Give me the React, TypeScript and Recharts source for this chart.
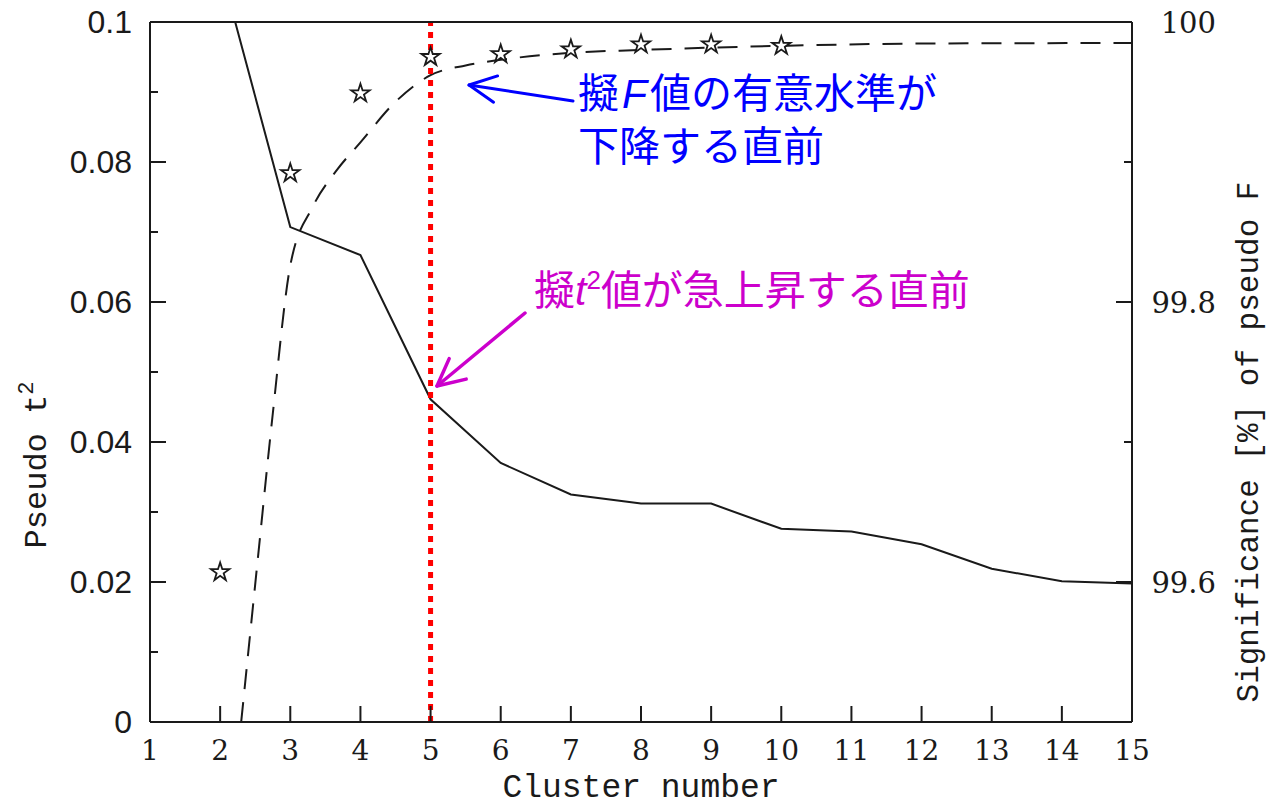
import React from 'react';
import { ComposedChart, Line, Scatter, XAxis, YAxis, ZAxis, ReferenceLine } from 'recharts';

// pseudo t^2 per cluster number (left axis); value at 2 runs off the top
const CLUSTERS = [2, 3, 4, 5, 6, 7, 8, 9, 10, 11, 12, 13, 14, 15];
const PSEUDO_T2 = [0.108, 0.0707, 0.0667, 0.0461, 0.037, 0.0325, 0.0312, 0.0312, 0.0276, 0.0272, 0.0254, 0.0219, 0.0201, 0.0198];

// significance of pseudo F (right axis), star markers
const STAR_CLUSTERS = [2, 3, 4, 5, 6, 7, 8, 9, 10];
const SIG_STARS = [99.607, 99.892, 99.949, 99.975, 99.977, 99.9805, 99.984, 99.984, 99.983];

// dashed curve
const FIT_X = [2.3, 2.54, 2.75, 3.0, 3.32, 3.66, 4.0, 4.5, 5.0, 5.5, 6, 7, 8, 10, 12, 15];
const FIT_SIG = [99.5, 99.618, 99.72, 99.826, 99.868, 99.894, 99.914, 99.943, 99.962, 99.969, 99.973, 99.978, 99.98, 99.983, 99.9846, 99.985];

const X_TICKS = [1, 2, 3, 4, 5, 6, 7, 8, 9, 10, 11, 12, 13, 14, 15];
const LEFT_TICKS = [0, 0.01, 0.02, 0.03, 0.04, 0.05, 0.06, 0.07, 0.08, 0.09, 0.1];
const RIGHT_TICKS = [99.6, 99.7, 99.8, 99.9, 100];

const t2Data = CLUSTERS.map((x, i) => ({ x, y: PSEUDO_T2[i] }));
const starData = STAR_CLUSTERS.map((x, i) => ({ x, y: SIG_STARS[i] }));
const fitData = FIT_X.map((x, i) => ({ x, y: FIT_SIG[i] }));

const INK = '#1a1a1a';
const SANS = "'Liberation Sans', Arial, sans-serif";
const SERIF = "'DejaVu Serif', serif";
const MONO = "'Liberation Mono', monospace";
const CJK = "'Noto Sans CJK JP', sans-serif";

const LeftTick = ({ x, y, payload }: any) => {
  const v = payload.value;
  const major = Math.round(v * 100) % 2 === 0;
  return (
    <g>
      <line x1={x} x2={x + (major ? 16 : 8)} y1={y} y2={y} stroke={INK} strokeWidth={2} />
      {major && (
        <text x={x - 18} y={y + 11} textAnchor="end" fontSize={32} fontFamily={SANS} fill={INK}>
          {String(v)}
        </text>
      )}
    </g>
  );
};

const RightTick = ({ x, y, payload }: any) => {
  const v = payload.value;
  const major = Math.round(v * 10) % 2 === 0;
  return (
    <g>
      <line x1={x} x2={x - (major ? 16 : 8)} y1={y} y2={y} stroke={INK} strokeWidth={2} />
      {major && (
        <text x={x + 84} y={y + 11} textAnchor="end" fontSize={29} fontFamily={SERIF} fill={INK}>
          {String(v)}
        </text>
      )}
    </g>
  );
};

const BottomTick = ({ x, y, payload }: any) => (
  <g>
    <line x1={x} x2={x} y1={y} y2={y - 16} stroke={INK} strokeWidth={2} />
    <text x={x} y={y + 38} textAnchor="middle" fontSize={28} fontFamily={SERIF} fill={INK}>
      {payload.value}
    </text>
  </g>
);

const TopTick = ({ x, y }: any) => (
  <line x1={x} x2={x} y1={y} y2={y + 16} stroke={INK} strokeWidth={2} />
);

const Arrow = ({ x1, y1, x2, y2, color, w }: any) => {
  const a = Math.atan2(y1 - y2, x1 - x2);
  const L = 30, s = 0.46;
  const p1 = `${x2 + L * Math.cos(a + s)},${y2 + L * Math.sin(a + s)}`;
  const p2 = `${x2 + L * Math.cos(a - s)},${y2 + L * Math.sin(a - s)}`;
  return (
    <g stroke={color} strokeWidth={w} fill="none" strokeLinecap="round" strokeLinejoin="round">
      <line x1={x1} y1={y1} x2={x2} y2={y2} />
      <polyline points={`${p1} ${x2},${y2} ${p2}`} />
    </g>
  );
};

export default function App() {
  return (
    <div style={{ position: 'absolute', left: 0, top: 0, width: 1267, height: 808, background: '#fff' }}>
      <ComposedChart width={1267} height={808} margin={{ top: 21, right: 0, bottom: 0, left: 0 }}>
        <XAxis
          dataKey="x"
          type="number"
          domain={[1, 15]}
          ticks={X_TICKS}
          interval={0}
          allowDataOverflow
          height={86}
          tickSize={0}
          tickMargin={0}
          tickLine={false}
          tick={<BottomTick />}
          axisLine={{ stroke: INK, strokeWidth: 2 }}
        />
        <XAxis
          xAxisId="top"
          orientation="top"
          type="number"
          domain={[1, 15]}
          ticks={X_TICKS}
          interval={0}
          height={1}
          tickSize={0}
          tickMargin={0}
          tickLine={false}
          tick={<TopTick />}
          axisLine={{ stroke: INK, strokeWidth: 2 }}
        />
        <YAxis
          yAxisId="left"
          dataKey="y"
          type="number"
          domain={[0, 0.1]}
          ticks={LEFT_TICKS}
          interval={0}
          allowDataOverflow
          width={150}
          tickSize={0}
          tickMargin={0}
          tickLine={false}
          tick={<LeftTick />}
          axisLine={{ stroke: INK, strokeWidth: 2 }}
        />
        <YAxis
          yAxisId="right"
          orientation="right"
          dataKey="y"
          type="number"
          domain={[99.5, 100]}
          ticks={RIGHT_TICKS}
          interval={0}
          allowDataOverflow
          width={135}
          tickSize={0}
          tickMargin={0}
          tickLine={false}
          tick={<RightTick />}
          axisLine={{ stroke: INK, strokeWidth: 2 }}
        />
        <ZAxis range={[105, 105]} />
        <Line
          yAxisId="left"
          data={t2Data}
          dataKey="y"
          type="linear"
          stroke={INK}
          strokeWidth={2}
          dot={false}
          isAnimationActive={false}
        />
        <Line
          yAxisId="right"
          data={fitData}
          dataKey="y"
          type="monotone"
          stroke={INK}
          strokeWidth={2}
          strokeDasharray="20 13"
          dot={false}
          isAnimationActive={false}
        />
        <Scatter
          yAxisId="right"
          data={starData}
          dataKey="y"
          shape="star"
          fill="#fff"
          stroke={INK}
          strokeWidth={1.8}
          isAnimationActive={false}
        />
        <ReferenceLine yAxisId="left" x={5} stroke="#ff0000" strokeWidth={5} strokeDasharray="6 6" />
      </ComposedChart>

      <svg
        width={1267}
        height={808}
        style={{ position: 'absolute', left: 0, top: 0, pointerEvents: 'none' }}
      >
        <text x={641} y={797} textAnchor="middle" fontSize={33} fontFamily={MONO} fill={INK}>
          Cluster number
        </text>
        <text
          transform="translate(46,465) rotate(-90)"
          textAnchor="middle"
          fontSize={32}
          fontFamily={MONO}
          fill={INK}
        >
          Pseudo t<tspan fontSize={22} dy={-13}>2</tspan>
        </text>
        <text
          transform="translate(1258,442) rotate(-90)"
          textAnchor="middle"
          fontSize={31}
          fontFamily={MONO}
          fill={INK}
        >
          Significance [%] of pseudo F
        </text>

        <Arrow x1={573} y1={101} x2={469} y2={85} color="#0000ff" w={3} />
        <text x={578} y={108} fontSize={41} fontFamily={CJK} fill="#0000ff">
          擬<tspan fontFamily={SANS} fontStyle="italic" dx={3}>F</tspan>
          <tspan dx={3}>値の有意水準が</tspan>
          <tspan x={578} dy={53}>下降する直前</tspan>
        </text>

        <Arrow x1={525} y1={313} x2={437} y2={386} color="#cc00cc" w={3.5} />
        <text x={534} y={305} fontSize={41} fontFamily={CJK} fill="#cc00cc">
          擬<tspan fontFamily={SANS} fontStyle="italic">t</tspan>
          <tspan fontFamily={SANS} fontSize={26} dy={-16}>2</tspan>
          <tspan dy={16}>値が急上昇する直前</tspan>
        </text>
      </svg>
    </div>
  );
}
